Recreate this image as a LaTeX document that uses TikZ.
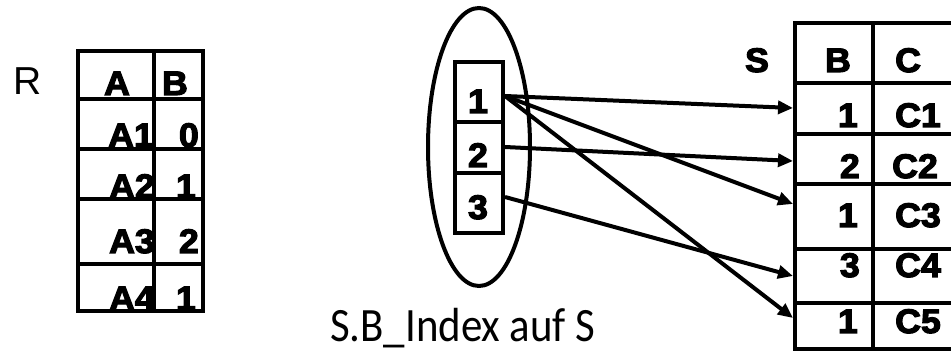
\documentclass[tikz,border=0pt]{standalone}
\usepackage{fontspec}
\setmainfont{Liberation Sans}
\newfontfamily\heavy{Liberation Sans Bold}[FakeBold=3.5,FakeStretch=1.05]
\newfontfamily\lblfont{Carlito}
\usetikzlibrary{arrows.meta}
\begin{document}
\begin{tikzpicture}[x=1pt,y=-1pt,
  tbl/.style={line width=4.5pt},
  cell/.style={font=\heavy\fontsize{34}{34}\selectfont, inner sep=0pt},
  ptr/.style={line width=4pt, -{Triangle[length=15pt,width=13pt]}}]
\useasboundingbox (0,0) rectangle (951,352);
\clip (0,0) rectangle (951,352);
% ---- table R
\node[font=\fontsize{39}{39}\selectfont, inner sep=0pt, anchor=base] (R) at (28,95) {R};
\draw[tbl] (78,51) rectangle (203,311);
\draw[tbl] (154,51) -- (154,311);
\foreach \y in {99,149,199,264} \draw[tbl] (78,\y) -- (203,\y);
\node[cell, anchor=base] (RhA) at (117,95) {A};
\node[cell, anchor=base] (RhB) at (175,95) {B};
\node[cell, anchor=base east] (Ra1) at (154,147) {A1};
\node[cell, anchor=base east] (Rb1) at (199,147) {0};
\node[cell, anchor=base east] (Ra2) at (155,198) {A2};
\node[cell, anchor=base east] (Rb2) at (196,198) {1};
\node[cell, anchor=base east] (Ra3) at (155,253) {A3};
\node[cell, anchor=base east] (Rb3) at (199,253) {2};
\node[cell, anchor=base east] (Ra4) at (155,310) {A4};
\node[cell, anchor=base east] (Rb4) at (196,310) {1};
% ---- index
\draw[line width=4pt] (479,147) ellipse [x radius=51, y radius=139];
\draw[tbl] (455,62) rectangle (503,233);
\draw[tbl] (455,122) -- (503,122);
\draw[tbl] (455,173) -- (503,173);
\node[cell, anchor=base] (i1) at (478,113) {1};
\node[cell, anchor=base] (i2) at (478,167) {2};
\node[cell, anchor=base] (i3) at (478,219) {3};
\coordinate (o1) at (505,96);
\coordinate (o2) at (505,147);
\coordinate (o3) at (505,197);
\node[font=\lblfont\fontsize{42}{42}\selectfont, anchor=base west, inner sep=0pt] (lbl) at (330,342) {\scalebox{1.02}[1.14]{S.B\_Index auf S}};
% ---- table S
\node[cell, anchor=base] (S) at (757,72) {S};
\draw[tbl] (795,23) rectangle (975,349);
\draw[tbl] (873,23) -- (873,349);
\foreach \y in {83,134,184,249,303} \draw[tbl] (795,\y) -- (975,\y);
\node[cell, anchor=base] (ShB) at (838,72) {B};
\node[cell, anchor=base west] (ShC) at (895,72) {C};
\node[cell, anchor=base east] (Sb1) at (858,127) {1};
\node[cell, anchor=base west] (Sc1) at (895,127) {C1};
\node[cell, anchor=base east] (Sb2) at (860,178) {2};
\node[cell, anchor=base west] (Sc2) at (892,178) {C2};
\node[cell, anchor=base east] (Sb3) at (858,227) {1};
\node[cell, anchor=base west] (Sc3) at (895,227) {C3};
\node[cell, anchor=base east] (Sb4) at (860,277) {3};
\node[cell, anchor=base west] (Sc4) at (895,277) {C4};
\node[cell, anchor=base east] (Sb5) at (858,333) {1};
\node[cell, anchor=base west] (Sc5) at (895,333) {C5};
\coordinate (t1) at (793,108);
\coordinate (t2) at (793,161);
\coordinate (t3) at (793,204);
\coordinate (t4) at (793,276);
\coordinate (t5) at (793,318);
% ---- pointers
\draw[ptr] (o1) -- (t1);
\draw[ptr] (o1) -- (t3);
\draw[ptr] (o1) -- (t5);
\draw[ptr] (o2) -- (t2);
\draw[ptr] (o3) -- (t4);
\end{tikzpicture}
\end{document}
